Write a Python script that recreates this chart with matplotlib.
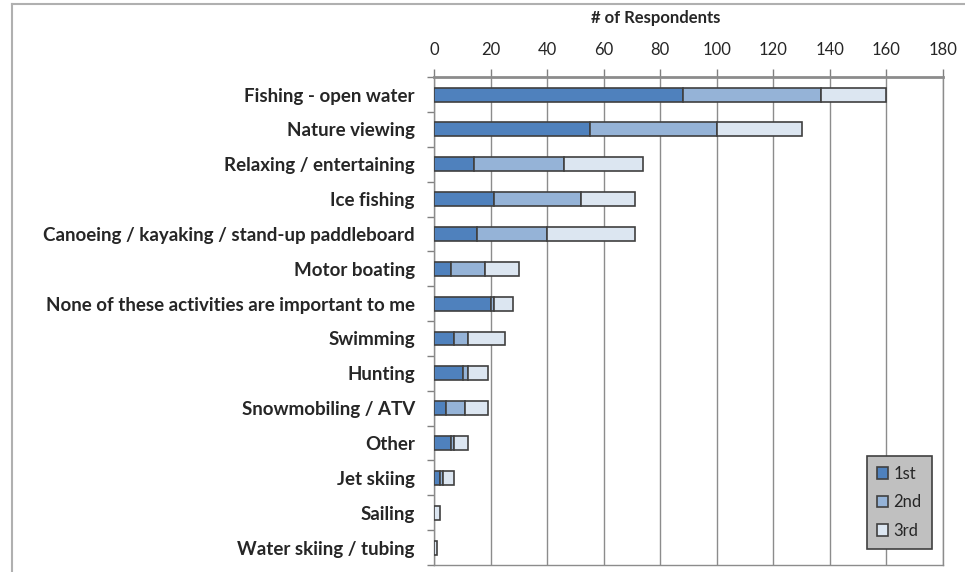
import numpy as np
import matplotlib
matplotlib.use('Agg')
import matplotlib.pyplot as plt
from matplotlib.lines import Line2D

plt.rcParams['font.family'] = ['Lato', 'DejaVu Sans']

# 数据
activities = ['Fishing - open water', 'Nature viewing', 'Relaxing / entertaining',
              'Ice fishing', 'Canoeing / kayaking / stand-up paddleboard',
              'Motor boating', 'None of these activities are important to me',
              'Swimming', 'Hunting', 'Snowmobiling / ATV', 'Other',
              'Jet skiing', 'Sailing', 'Water skiing / tubing']
first = [88, 55, 14, 21, 15, 6, 20, 7, 10, 4, 6, 2, 0, 0]
second = [49, 45, 32, 31, 25, 12, 1, 5, 2, 7, 1, 1, 0, 0]
third = [23, 30, 28, 19, 31, 12, 7, 13, 7, 8, 5, 4, 2, 1]
series_names = ['1st', '2nd', '3rd']
colors = ['#4f81bd', '#95b3d7', '#dce6f1']
xticks = [0, 20, 40, 60, 80, 100, 120, 140, 160, 180]

fig = plt.figure(figsize=(9.65, 5.72), dpi=100)
ax = fig.add_axes([0.450, 0.0122, 0.527, 0.853])

y = np.arange(len(activities))
left = np.zeros(len(activities))
for vals, name, c in zip([first, second, third], series_names, colors):
    ax.barh(y, vals, left=left, height=0.4, color=c, edgecolor='#404040',
            linewidth=1.2, label=name, zorder=3)
    left = left + np.array(vals)

ax.set_xlim(0, 180)
ax.set_ylim(len(activities) - 0.5, -0.5)
ax.set_xticks(xticks)
ax.xaxis.tick_top()
ax.tick_params(axis='x', length=6, width=1, color='#808080', pad=8,
               labelsize=12, labelcolor='#262626')
ax.set_yticks(y)
ax.set_yticklabels(activities, fontsize=13.5, fontweight='bold', color='#262626')
ax.tick_params(axis='y', length=0, pad=14)
ax.set_yticks(np.arange(len(activities) + 1) - 0.5, minor=True)
ax.tick_params(axis='y', which='minor', length=5, width=1, color='#808080')
ax.grid(axis='x', color='#8c8c8c', linewidth=1, zorder=0)
for s in ax.spines.values():
    s.set_color('#8c8c8c')
    s.set_linewidth(1)
ax.spines['top'].set_linewidth(2)
ax.spines['top'].set_color('#8c8c8c')

fig.text(0.679, 0.968, '# of Respondents', ha='center', va='center',
         fontsize=12, fontweight='bold', color='#262626')

leg = ax.legend(loc='lower right', bbox_to_anchor=(0.978, 0.033), fontsize=12,
                facecolor='#c0c0c0', edgecolor='#404040', framealpha=1,
                fancybox=False, handlelength=0.7, handleheight=0.7,
                handletextpad=0.3, labelspacing=0.75, borderpad=0.6,
                borderaxespad=0)
leg.get_frame().set_linewidth(1.2)
for t in leg.get_texts():
    t.set_color('#262626')

# 外框
fig.add_artist(Line2D([0.0124, 0.0124], [0, 0.993], color='#b0b0b0', lw=1.5))
fig.add_artist(Line2D([0.0124, 1.0], [0.993, 0.993], color='#b0b0b0', lw=1.5))

fig.savefig('out.png', dpi=100)
